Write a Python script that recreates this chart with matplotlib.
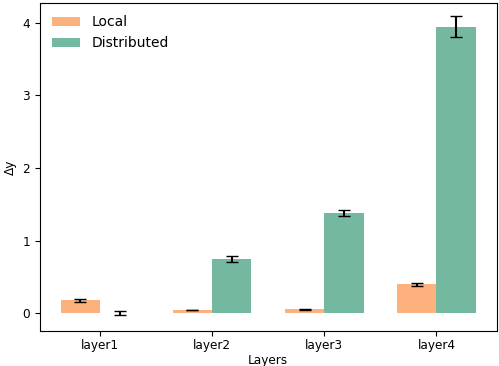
import numpy as np
import matplotlib
matplotlib.use("Agg")
import matplotlib.pyplot as plt

layers = ["layer1", "layer2", "layer3", "layer4"]
local_mean = [0.175, 0.04, 0.05, 0.395]
local_err = [0.022, 0.005, 0.006, 0.025]
dist_mean = [0.0, 0.745, 1.38, 3.95]
dist_err = [0.025, 0.035, 0.04, 0.14]

fig, ax = plt.subplots(figsize=(4.99, 3.66), dpi=100)
x = np.arange(len(layers))
w = 0.35
ax.bar(x - w / 2, local_mean, w, yerr=local_err, capsize=4,
       color="#fdb27e", label="Local")
ax.bar(x + w / 2, dist_mean, w, yerr=dist_err, capsize=4,
       color="#74b89f", label="Distributed")
ax.set_xticks(x)
ax.set_xticklabels(layers, fontsize=8.7)
ax.tick_params(axis="x", pad=2.5)
ax.tick_params(axis="y", labelsize=8.7)
ax.set_ylim(-0.248, 4.276)
ax.set_xlabel("Layers", fontsize=8.7, labelpad=1.5)
ax.set_ylabel("Δy", fontsize=8.7)
ax.legend(frameon=False, loc="upper left", fontsize=10)
fig.subplots_adjust(left=0.08, right=0.995, top=0.992, bottom=0.0956)
fig.savefig("out.png", dpi=100)
